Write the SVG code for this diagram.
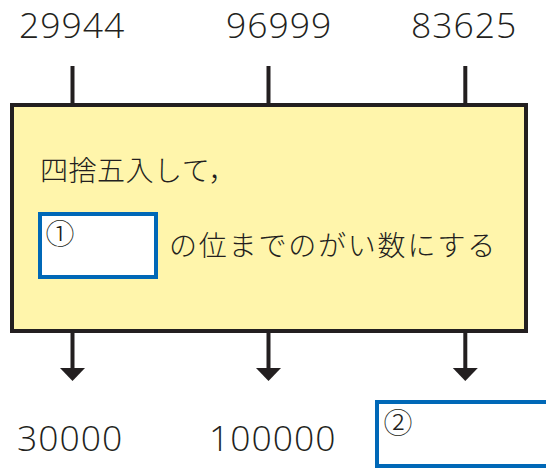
<svg xmlns="http://www.w3.org/2000/svg" width="546" height="469" viewBox="0 0 546 469">
<style>
.num{font-family:"Open Sans","Liberation Sans",sans-serif;font-weight:300;font-size:35.5px;fill:#231f20;letter-spacing:1px}
.jp{font-family:"Noto Sans CJK JP",sans-serif;font-weight:300;font-size:28px;fill:#231f20}
.circ{font-family:"Noto Sans CJK JP",sans-serif;font-weight:300;font-size:29px;fill:#231f20;text-anchor:middle}
.ln{stroke:#231f20;stroke-width:4;fill:none}
.ans{fill:#fff;stroke:#0068b7;stroke-width:4}
.head{fill:#231f20}
</style>
<g id="inputs">
<text class="num" x="19" y="38">29944</text>
<text class="num" x="226" y="38">96999</text>
<text class="num" x="411" y="38">83625</text>
</g>
<g id="connectors">
<line class="ln" x1="72.5" y1="66" x2="72.5" y2="105"/>
<line class="ln" x1="268.5" y1="66" x2="268.5" y2="105"/>
<line class="ln" x1="465.3" y1="66" x2="465.3" y2="105"/>
<line class="ln" x1="72.5" y1="331" x2="72.5" y2="370"/>
<line class="ln" x1="268.5" y1="331" x2="268.5" y2="370"/>
<line class="ln" x1="465.3" y1="331" x2="465.3" y2="370"/>
<path class="head" d="M60,368 L85,368 L72.5,381 Z"/>
<path class="head" d="M256,368 L281,368 L268.5,381 Z"/>
<path class="head" d="M452.8,368 L477.8,368 L465.3,381 Z"/>
</g>
<g id="process">
<rect x="12" y="105" width="514" height="226" fill="#fff5ab" stroke="#231f20" stroke-width="4"/>
<text class="jp" x="40" y="181" letter-spacing="0.5">四捨五入して，</text>
<rect class="ans" x="40" y="214" width="116" height="63"/>
<text class="circ" x="60" y="245">①</text>
<text class="jp" x="169" y="256" letter-spacing="1.8">の位までのがい数にする</text>
</g>
<g id="outputs">
<text class="num" x="17" y="451">30000</text>
<text class="num" x="209" y="451">100000</text>
<rect class="ans" x="377" y="402" width="200" height="64"/>
<text class="circ" x="398" y="434">②</text>
</g>
</svg>
